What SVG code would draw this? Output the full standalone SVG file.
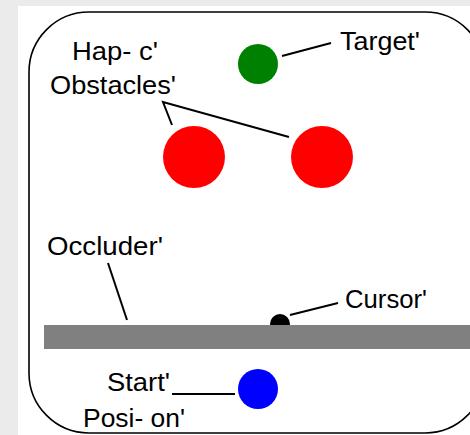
<svg xmlns="http://www.w3.org/2000/svg" width="470" height="435" viewBox="0 0 470 435">
<style>
.lbl{font-family:"Liberation Sans",Arial,sans-serif;font-size:25px;fill:#000}
.lead{stroke:#000;stroke-width:2;fill:none}
</style>
<rect x="0" y="0" width="470" height="435" fill="#ebebeb"/>
<rect x="18" y="6" width="452" height="429" fill="#ffffff"/>
<rect id="frame" x="29" y="12" width="456" height="421" rx="60" ry="60" fill="none" stroke="#000" stroke-width="1.6"/>
<g id="connectors">
<line class="lead" x1="282" y1="56" x2="331" y2="43"/>
<polyline class="lead" points="172,125 163,102 289,137"/>
<line class="lead" x1="108" y1="263" x2="127" y2="320"/>
<line class="lead" x1="290" y1="315" x2="338" y2="303"/>
<line class="lead" x1="172" y1="394" x2="235" y2="394"/>
</g>
<g id="target"><circle cx="258" cy="64" r="20" fill="#008000"/></g>
<g id="obstacle1"><circle cx="194" cy="157" r="31" fill="#ff0000"/></g>
<g id="obstacle2"><circle cx="322" cy="157" r="31" fill="#ff0000"/></g>
<g id="cursor"><circle cx="280" cy="324" r="10" fill="#000"/></g>
<g id="occluder"><rect x="44" y="325" width="430" height="24" fill="#808080"/></g>
<g id="start"><circle cx="258" cy="389" r="20" fill="#0000ff"/></g>
<g id="labels">
<text class="lbl" x="72" y="60" textLength="86" lengthAdjust="spacingAndGlyphs">Hap- c'</text>
<text class="lbl" x="50" y="94" textLength="126" lengthAdjust="spacingAndGlyphs">Obstacles'</text>
<text class="lbl" x="340" y="50" textLength="80" lengthAdjust="spacingAndGlyphs">Target'</text>
<text class="lbl" x="47" y="255" textLength="116" lengthAdjust="spacingAndGlyphs">Occluder'</text>
<text class="lbl" x="345" y="308" textLength="82" lengthAdjust="spacingAndGlyphs">Cursor'</text>
<text class="lbl" x="107" y="391" textLength="63" lengthAdjust="spacingAndGlyphs">Start'</text>
<text class="lbl" x="83" y="427" textLength="102" lengthAdjust="spacingAndGlyphs">Posi- on'</text>
</g>
</svg>
